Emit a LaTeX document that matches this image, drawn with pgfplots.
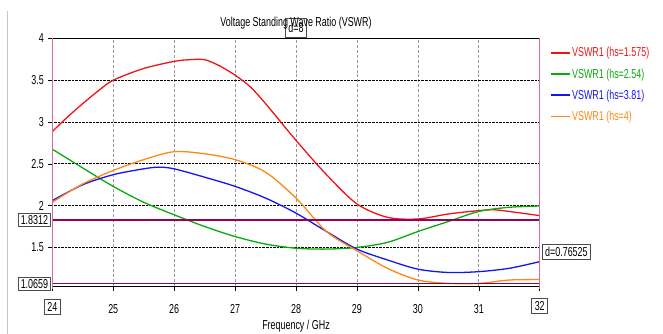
\documentclass[border=0pt]{standalone}
\usepackage{fontspec}
\setmainfont{Liberation Sans}[FakeStretch=0.69]
\usepackage{pgfplots}
\pgfplotsset{compat=1.18}
\definecolor{cred}{RGB}{240,20,20}
\definecolor{cgreen}{RGB}{10,170,10}
\definecolor{cblue}{RGB}{20,20,240}
\definecolor{corange}{RGB}{255,135,20}
\definecolor{pinkline}{RGB}{205,105,170}
\definecolor{mline}{RGB}{150,0,90}
\newcommand{\lf}{\fontsize{13}{13}\selectfont}
\begin{document}
\begin{tikzpicture}
\useasboundingbox (-52.3bp,-47.3bp) rectangle (610.7bp,286.7bp);
\draw[gray!45, line width=0.8bp] (-45.3bp,-47.3bp) -- (-45.3bp,276bp);
\begin{axis}[
  at={(0,0)}, anchor=south west,
  x=60.93bp, y=83.6bp,
  xmin=24, xmax=32, ymin=1.03, ymax=4,
  clip=false,
  xtick={24,...,32},
  xticklabels={,25,26,27,28,29,30,31,},
  ytick={1.5,2,2.5,3,3.5,4},
  /pgf/number format/assume math mode=true,
  ticklabel style={font=\lf},
  xticklabel style={yshift=-10bp},
  yticklabel style={xshift=-1bp},
  tick align=outside,
  major tick length=4bp,
  tick style={black, line width=0.6bp},
  xtick pos=lower, ytick pos=left,
  axis line style={black, line width=0.8bp},
  xmajorgrids, ymajorgrids,
  major x grid style={gray!80, densely dashed, line width=0.7bp},
  major y grid style={black, densely dotted, line width=0.7bp},
  title={Voltage Standing Wave Ratio (VSWR)},
  title style={at={(0.5,1)}, anchor=center, yshift=9bp, font=\lf},
  xlabel={Frequency / GHz},
  xlabel style={at={(0.5,0)}, anchor=center, yshift=-39bp, font=\lf},
  legend style={at={(1.021,0.97)}, anchor=north west, draw=none, fill=none,
    font=\lf, row sep=7.2bp, inner sep=0pt, nodes={inner sep=1.5bp}},
  legend cell align=left,
  legend image code/.code={\draw[#1, line width=1.4bp] (0bp,0bp) -- (19bp,0bp);},
  every axis plot/.append style={line width=1.3bp},
]
\addplot[cred, smooth] coordinates {
(24,2.885) (24.25,3.06) (24.5,3.22) (24.75,3.37) (25,3.50) (25.5,3.64) (26,3.725)
(26.25,3.745) (26.5,3.745) (26.75,3.67) (27,3.56) (27.25,3.42) (27.5,3.22) (28,2.78)
(28.5,2.37) (29,2.02) (29.5,1.86) (30,1.84) (30.5,1.90) (31,1.94) (31.25,1.95)
(31.5,1.93) (32,1.88)};
\addlegendentry{\textcolor{cred}{VSWR1 (hs=1.575)}}
\addplot[cgreen, smooth] coordinates {
(24,2.675) (24.5,2.45) (25,2.23) (25.5,2.04) (26,1.89) (26.5,1.75) (27,1.63)
(27.5,1.54) (28,1.49) (28.5,1.48) (29,1.50) (29.5,1.56) (30,1.69) (30.5,1.81)
(31,1.93) (31.5,1.98) (32,1.995)};
\addlegendentry{\textcolor{cgreen}{VSWR1 (hs=2.54)}}
\addplot[cblue, smooth] coordinates {
(24,2.06) (24.5,2.25) (25,2.37) (25.5,2.44) (25.75,2.46) (26,2.44) (26.5,2.34)
(27,2.23) (27.5,2.09) (28,1.91) (28.5,1.69) (29,1.48) (29.5,1.35) (30,1.24)
(30.5,1.20) (31,1.21) (31.5,1.25) (32,1.33)};
\addlegendentry{\textcolor{cblue}{VSWR1 (hs=3.81)}}
\addplot[corange, smooth] coordinates {
(24,2.04) (24.5,2.26) (25,2.42) (25.5,2.55) (26,2.645) (26.5,2.62) (27,2.55)
(27.5,2.40) (28,2.09) (28.5,1.69) (29,1.46) (29.5,1.25) (30,1.11) (30.5,1.07)
(31,1.07) (31.5,1.11) (32,1.115)};
\addlegendentry{\textcolor{corange}{VSWR1 (hs=4)}}
% marker lines
\addplot[mline, line width=1.6bp, forget plot] coordinates {(24,1.8312) (32,1.8312)};
\addplot[mline, line width=1.6bp, forget plot] coordinates {(24,1.0659) (32,1.0659)};
\addplot[pinkline, line width=1.3bp, forget plot] coordinates {(24,1.0) (24,4)};
\addplot[pinkline, line width=1.3bp, forget plot] coordinates {(32,1.0) (32,4)};
% marker labels
\node[draw=black!70, line width=0.8bp, fill=white, font=\lf, inner xsep=2.5bp, inner ysep=2bp, anchor=east, xshift=-1.3bp] at (axis cs:24,1.8312) {1.8312};
\node[draw=black!70, line width=0.8bp, fill=white, font=\lf, inner xsep=2.5bp, inner ysep=2bp, anchor=east, xshift=-1.3bp] at (axis cs:24,1.0659) {1.0659};
\node[draw=black!70, line width=0.8bp, fill=white, font=\lf, inner xsep=3bp, inner ysep=3bp, anchor=west, xshift=2bp] at (axis cs:32,1.449) {d=0.76525};
\node[draw=black!70, line width=0.8bp, font=\lf, inner xsep=3bp, inner ysep=3bp, minimum height=19bp, anchor=south, yshift=0.5bp] at (axis cs:28,4) {d=8};
\node[draw=black!70, line width=0.8bp, fill=white, font=\lf, inner xsep=3bp, inner ysep=3bp, yshift=-20bp] at (axis cs:24,1.03) {24};
\node[draw=black!70, line width=0.8bp, fill=white, font=\lf, inner xsep=3bp, inner ysep=3bp, yshift=-19.5bp] at (axis cs:32,1.03) {32};
\end{axis}
\end{tikzpicture}
\end{document}
